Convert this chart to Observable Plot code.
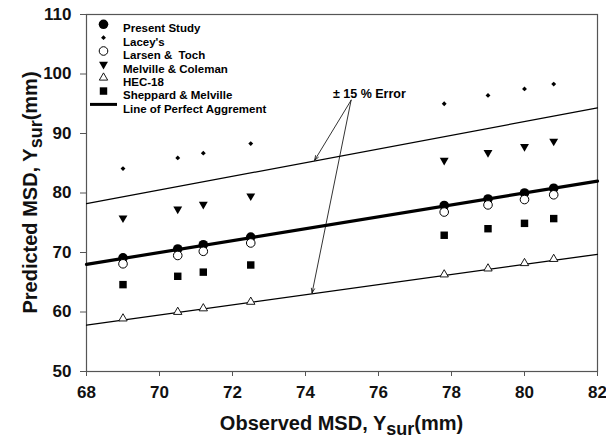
<!DOCTYPE html>
<html>
<head>
<meta charset="utf-8">
<script src="https://cdn.jsdelivr.net/npm/d3@7"></script>
<script src="https://cdn.jsdelivr.net/npm/@observablehq/plot@0.6"></script>
<style>
  html, body { margin: 0; padding: 0; background: #fff; }
  #chart { width: 606px; height: 438px; }
</style>
</head>
<body>
<div id="chart"></div>
<script>
// ---- Data ----
const observed = [69.0, 70.5, 71.2, 72.5, 77.8, 79.0, 80.0, 80.8];
const presentStudy = [69.1, 70.6, 71.3, 72.6, 77.9, 79.0, 80.0, 80.8];
const laceys = [84.1, 85.9, 86.7, 88.3, 95.0, 96.4, 97.5, 98.3];
const larsenToch = [68.1, 69.5, 70.2, 71.6, 76.8, 78.0, 78.9, 79.7];
const melvilleColeman = [75.8, 77.3, 78.1, 79.5, 85.5, 86.8, 87.8, 88.7];
const hec18 = [58.9, 60.0, 60.6, 61.7, 66.3, 67.3, 68.2, 68.9];
const sheppardMelville = [64.6, 66.0, 66.7, 67.9, 72.9, 74.0, 74.9, 75.7];

const seriesNames = ["Present Study", "Lacey's", "Larsen &  Toch", "Melville & Coleman", "HEC-18", "Sheppard & Melville"];
const lineName = "Line of Perfect Aggrement";

// reference lines (endpoints)
const lineX = [68, 82];
const perfectY = [68, 82];
const upperY = [78.2, 94.3];
const lowerY = [57.8, 69.7];

// annotation
const annotText = "\u00b1 15 % Error";
const annotTextX = [75.75];
const annotTextY = [96.0];
const arrowX1 = [75.25, 75.25];
const arrowY1 = [95.6, 95.6];
const arrowX2 = [74.25, 74.18];
const arrowY2 = [85.5, 63.2];

const xTicks = [68, 70, 72, 74, 76, 78, 80, 82];
const yTicks = [50, 60, 70, 80, 90, 100, 110];

// ---- symbols ----
const triDown = {
  draw(ctx, size) {
    const y = -Math.sqrt(size / (Math.sqrt(3) * 3));
    ctx.moveTo(0, -2 * y);
    ctx.lineTo(-Math.sqrt(3) * y, y);
    ctx.lineTo(Math.sqrt(3) * y, y);
    ctx.closePath();
  }
};
const legendLine = {
  draw(ctx) { ctx.moveTo(-13.5, 0); ctx.lineTo(13.5, 0); }
};

const seriesValues = [presentStudy, laceys, larsenToch, melvilleColeman, hec18, sheppardMelville];
const seriesStyle = [
  {symbol: "circle", r: 4.8, fill: "black", stroke: "none"},
  {symbol: "diamond2", r: 2.2, fill: "black", stroke: "none"},
  {symbol: "circle", r: 4.3, fill: "white", stroke: "black", strokeWidth: 1},
  {symbol: triDown, r: 3.3, fill: "black", stroke: "none"},
  {symbol: "triangle", r: 3.1, fill: "white", stroke: "black", strokeWidth: 0.9},
  {symbol: "square", r: 4.2, fill: "black", stroke: "none"}
];

const points = [];
seriesValues.forEach((vals, si) => {
  vals.forEach((v, i) => points.push({series: si, x: observed[i], y: v}));
});

const refLine = (ys) => lineX.map((x, i) => ({x, y: ys[i]}));
const arrows = arrowX1.map((x1, i) => ({x1, y1: arrowY1[i], x2: arrowX2[i], y2: arrowY2[i]}));

const marks = [
  Plot.frame({stroke: "#555", strokeWidth: 1.2}),
  Plot.axisX({ticks: xTicks, tickSize: 5, tickPadding: 9, stroke: "#555", fill: "#111", fontSize: 17, tickFormat: d => String(d), label: null}),
  Plot.axisY({ticks: yTicks, tickSize: 6, tickPadding: 9, stroke: "#555", fill: "#111", fontSize: 17, tickFormat: d => String(d), label: null}),
  Plot.line(refLine(upperY), {x: "x", y: "y", stroke: "black", strokeWidth: 1.2}),
  Plot.line(refLine(lowerY), {x: "x", y: "y", stroke: "black", strokeWidth: 1.2}),
  Plot.line(refLine(perfectY), {x: "x", y: "y", stroke: "black", strokeWidth: 3.2})
];

seriesStyle.forEach((st, si) => {
  marks.push(Plot.dot(points.filter(p => p.series === si), {x: "x", y: "y", ...st}));
});

marks.push(
  Plot.arrow(arrows, {x1: "x1", y1: "y1", x2: "x2", y2: "y2", stroke: "black", strokeWidth: 0.8, headLength: 9, headAngle: 40}),
  Plot.text([annotText], {x: annotTextX[0], y: annotTextY[0], text: d => d, fontSize: 12.5, fill: "black", textAnchor: "middle", lineAnchor: "bottom"})
);

// legend
const legendFont = 11.5;
seriesStyle.forEach((st, si) => {
  const dy = 9.8 + 13.35 * si;
  marks.push(Plot.dot([0], {frameAnchor: "top-left", dx: 17, dy, ...st}));
  marks.push(Plot.text([seriesNames[si]], {frameAnchor: "top-left", dx: 36.5, dy, text: d => d, textAnchor: "start", fontSize: legendFont, fill: "black"}));
});
{
  const dy = 9.8 + 13.35 * 6;
  marks.push(Plot.dot([0], {frameAnchor: "top-left", dx: 17, dy, symbol: legendLine, stroke: "black", strokeWidth: 3, fill: "none"}));
  marks.push(Plot.text([lineName], {frameAnchor: "top-left", dx: 36.5, dy, text: d => d, textAnchor: "start", fontSize: legendFont, fill: "black"}));
}

const chart = Plot.plot({
  width: 606,
  height: 438,
  marginLeft: 86,
  marginRight: 9,
  marginTop: 14,
  marginBottom: 67,
  style: {fontFamily: "'Liberation Sans', Arial, sans-serif", fontWeight: "bold", background: "white", color: "black"},
  x: {domain: [68, 82]},
  y: {domain: [50, 110]},
  marks
});

document.getElementById("chart").appendChild(chart);

// axis titles with subscripts
const svg = d3.select(chart);
const xt = svg.append("text")
  .attr("x", 341.5).attr("y", 430)
  .attr("text-anchor", "middle")
  .attr("font-size", 20).attr("font-weight", "bold").attr("fill", "#111");
xt.append("tspan").text("Observed MSD, Y");
xt.append("tspan").attr("dy", 5).attr("font-size", 18).text("sur");
xt.append("tspan").attr("dy", -5).text("(mm)");

const yt = svg.append("text")
  .attr("transform", "translate(37,192.5) rotate(-90)")
  .attr("text-anchor", "middle")
  .attr("font-size", 20).attr("font-weight", "bold").attr("fill", "#111");
yt.append("tspan").text("Predicted MSD, Y");
yt.append("tspan").attr("dy", 5).attr("font-size", 18).text("sur");
yt.append("tspan").attr("dy", -5).text("(mm)");
</script>
</body>
</html>
